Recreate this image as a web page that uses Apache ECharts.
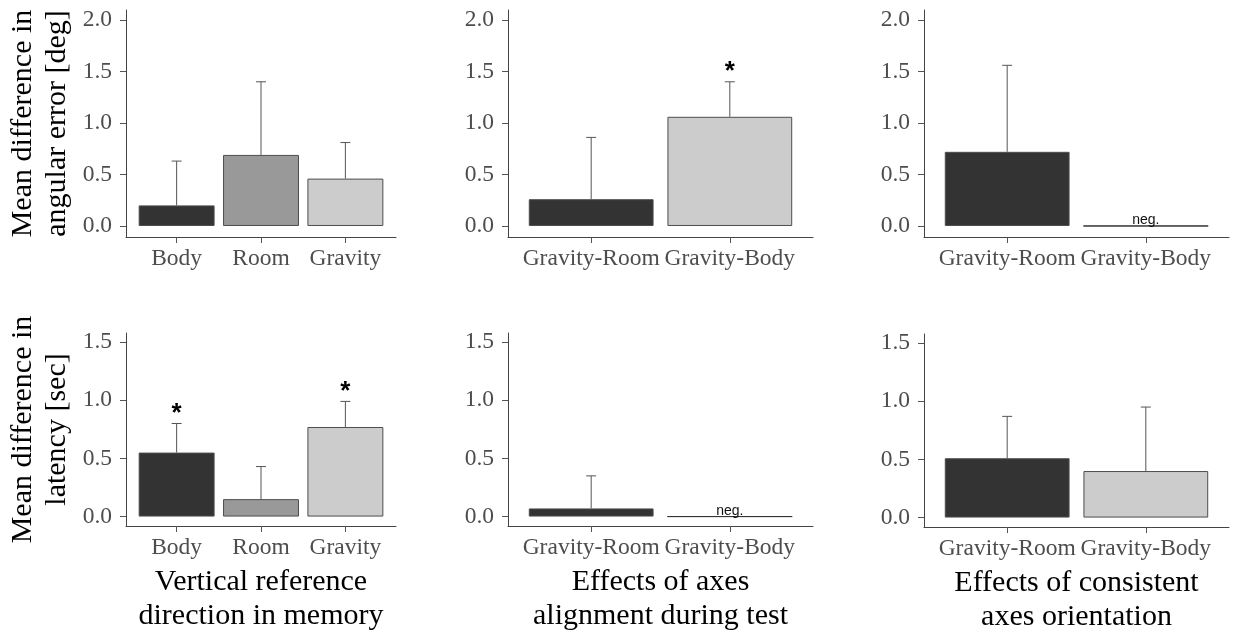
<!DOCTYPE html>
<html>
<head>
<meta charset="utf-8">
<script src="https://cdn.jsdelivr.net/npm/echarts@6/dist/echarts.min.js"></script>
<style>
  html, body { margin: 0; padding: 0; background: #fff; }
  #main { width: 1233px; height: 639px; }
</style>
</head>
<body>
<div id="main"></div>
<script>
var memCats = ['Body', 'Room', 'Gravity'];
var pairCats = ['Gravity-Room', 'Gravity-Body'];
var memColors = ['#333333', '#999999', '#cccccc'];
var pairColors = ['#333333', '#cccccc'];

// angular error [deg]; null = negative difference, shown as "neg."
var angTicks = [0, 0.5, 1.0, 1.5, 2.0];
var angMemMean = [0.20, 0.69, 0.46];
var angMemUpper = [0.63, 1.40, 0.81];
var angMemSig = [false, false, false];
var angAlignMean = [0.26, 1.06];
var angAlignUpper = [0.86, 1.40];
var angAlignSig = [false, true];
var angConsMean = [0.72, null];
var angConsUpper = [1.56, null];
var angConsSig = [false, false];

// latency [sec]
var latTicks = [0, 0.5, 1.0, 1.5];
var latMemMean = [0.55, 0.15, 0.77];
var latMemUpper = [0.80, 0.43, 0.99];
var latMemSig = [true, false, true];
var latAlignMean = [0.07, null];
var latAlignUpper = [0.35, null];
var latAlignSig = [false, false];
var latConsMean = [0.51, 0.40];
var latConsUpper = [0.87, 0.95];
var latConsSig = [false, false];

var serif = '"Liberation Serif", "Times New Roman", serif';
var sans = '"Liberation Sans", Arial, sans-serif';

var panels = [
  { cats: memCats, colors: memColors, mean: angMemMean, upper: angMemUpper, sig: angMemSig, ticks: angTicks,
    range: [-0.107, 2.097], grid: { left: 126, top: 10, width: 270, height: 227 },
    yName: 'Mean difference in\nangular error [deg]' },
  { cats: pairCats, colors: pairColors, mean: angAlignMean, upper: angAlignUpper, sig: angAlignSig, ticks: angTicks,
    range: [-0.107, 2.097], grid: { left: 508, top: 10, width: 305, height: 227 } },
  { cats: pairCats, colors: pairColors, mean: angConsMean, upper: angConsUpper, sig: angConsSig, ticks: angTicks,
    range: [-0.107, 2.097], grid: { left: 924, top: 10, width: 305, height: 227 } },
  { cats: memCats, colors: memColors, mean: latMemMean, upper: latMemUpper, sig: latMemSig, ticks: latTicks,
    range: [-0.081, 1.578], grid: { left: 126, top: 333, width: 270, height: 193 },
    yName: 'Mean difference in\nlatency [sec]', xName: 'Vertical reference\ndirection in memory' },
  { cats: pairCats, colors: pairColors, mean: latAlignMean, upper: latAlignUpper, sig: latAlignSig, ticks: latTicks,
    range: [-0.081, 1.578], grid: { left: 508, top: 333, width: 305, height: 193 },
    xName: 'Effects of axes\nalignment during test' },
  { cats: pairCats, colors: pairColors, mean: latConsMean, upper: latConsUpper, sig: latConsSig, ticks: latTicks,
    range: [-0.081, 1.578], grid: { left: 924, top: 334, width: 305, height: 193 },
    xName: 'Effects of consistent\naxes orientation' }
];

var option = { animation: false, backgroundColor: '#fff', grid: [], xAxis: [], yAxis: [], series: [] };

panels.forEach(function (p, i) {
  var pos = p.cats.map(function (c, k) { return k + 1; });
  var g = p.grid;
  g.outerBoundsMode = 'none';
  option.grid.push(g);

  option.xAxis.push({
    gridIndex: i, type: 'value', min: 0.4, max: p.cats.length + 0.6, position: 'bottom',
    axisLine: { show: true, onZero: false, lineStyle: { color: '#444', width: 1 } },
    axisTick: { show: true, customValues: pos, length: 6, lineStyle: { color: '#555' } },
    axisLabel: {
      customValues: pos, margin: 10, color: '#4d4d4d', fontFamily: serif, fontSize: 23.5,
      formatter: function (v) { return p.cats[Math.round(v) - 1]; }
    },
    splitLine: { show: false },
    name: p.xName || '', nameLocation: 'middle', nameGap: 39, nameMoveOverlap: false,
    nameTextStyle: { fontFamily: serif, fontSize: 30, color: '#000', lineHeight: 34 }
  });

  option.yAxis.push({
    gridIndex: i, type: 'value', min: p.range[0], max: p.range[1],
    axisLine: { show: true, onZero: false, lineStyle: { color: '#444', width: 1 } },
    axisTick: { show: true, customValues: p.ticks, length: 6, lineStyle: { color: '#555' } },
    axisLabel: {
      customValues: p.ticks, margin: 14, color: '#4d4d4d', fontFamily: serif, fontSize: 23.5,
      formatter: function (v) { return v.toFixed(1); }
    },
    splitLine: { show: false },
    name: p.yName || '', nameLocation: 'middle', nameRotate: 90, nameGap: 52, nameMoveOverlap: false,
    nameTextStyle: { fontFamily: serif, fontSize: 30, color: '#000', lineHeight: 34 }
  });

  option.series.push({
    type: 'bar', xAxisIndex: i, yAxisIndex: i, barWidth: '90%', silent: true,
    data: p.mean.map(function (v, k) {
      var item = {
        value: [k + 1, v === null ? 0 : v],
        itemStyle: { color: p.colors[k], borderColor: '#4d4d4d', borderWidth: 1 }
      };
      if (v === null) {
        item.itemStyle.borderColor = '#333';
        item.label = {
          show: true, formatter: 'neg.', position: 'top', distance: -2,
          fontFamily: sans, fontSize: 14, color: '#111'
        };
      }
      return item;
    })
  });

  var errData = [];
  p.mean.forEach(function (v, k) {
    if (v !== null) errData.push([k + 1, v, p.upper[k], p.sig[k] ? 1 : 0]);
  });
  option.series.push({
    type: 'custom', xAxisIndex: i, yAxisIndex: i, silent: true, z: 5,
    data: errData,
    renderItem: function (params, api) {
      var x = api.value(0);
      var b = api.coord([x, api.value(1)]);
      var t = api.coord([x, api.value(2)]);
      var st = { stroke: '#555', lineWidth: 1 };
      var children = [
        { type: 'line', shape: { x1: b[0], y1: b[1], x2: t[0], y2: t[1] }, style: st },
        { type: 'line', shape: { x1: t[0] - 5, y1: t[1], x2: t[0] + 5, y2: t[1] }, style: st }
      ];
      if (api.value(3)) {
        children.push({
          type: 'text',
          style: {
            text: '*', x: t[0], y: t[1] - 10, align: 'center', verticalAlign: 'middle',
            font: 'bold 26px ' + sans, fill: '#000'
          }
        });
      }
      return { type: 'group', children: children };
    }
  });
});

var myChart = echarts.init(document.getElementById('main'));
myChart.setOption(option);
</script>
</body>
</html>
